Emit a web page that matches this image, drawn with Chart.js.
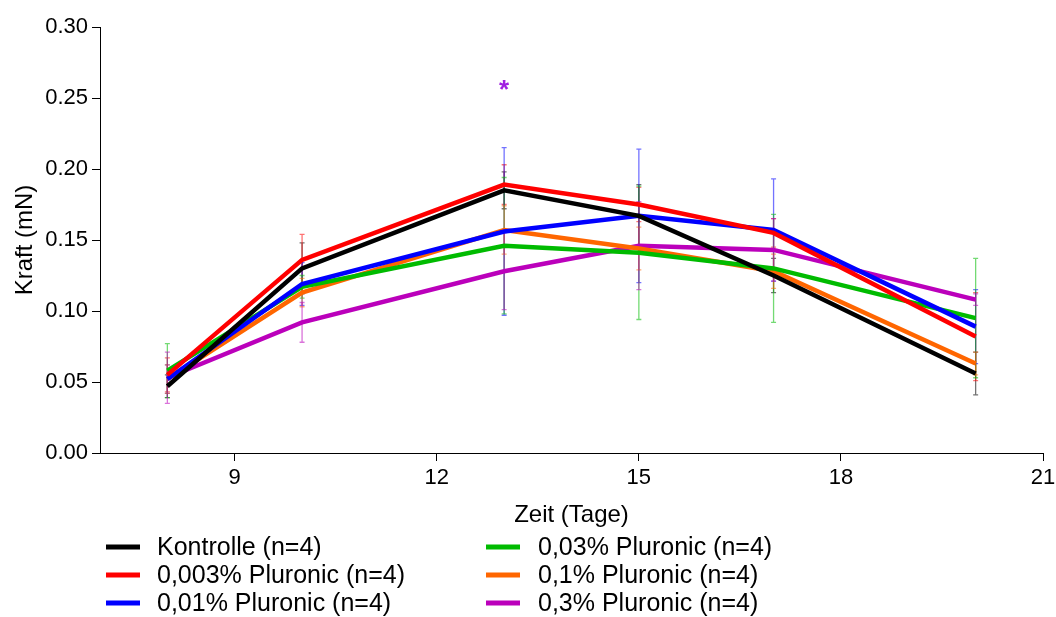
<!DOCTYPE html>
<html>
<head>
<meta charset="utf-8">
<script src="https://cdn.jsdelivr.net/npm/chart.js@4.4.1/dist/chart.umd.min.js"></script>
<style>
  html, body { margin: 0; padding: 0; background: #fff; }
  #wrap { position: relative; width: 1056px; height: 617px; }
</style>
</head>
<body>
<div id="wrap"><canvas id="c" width="1056" height="617"></canvas></div>
<script>
// ---- data ----
const days = [8, 10, 13, 15, 17, 20];
const xTicks = [9, 12, 15, 18, 21];
const seriesNames = ["Kontrolle (n=4)", "0,003% Pluronic (n=4)", "0,01% Pluronic (n=4)",
                     "0,03% Pluronic (n=4)", "0,1% Pluronic (n=4)", "0,3% Pluronic (n=4)"];
const kontrolle = [0.047, 0.130, 0.185, 0.167, 0.125, 0.056];
const p0003     = [0.055, 0.136, 0.189, 0.175, 0.155, 0.082];
const p001      = [0.052, 0.119, 0.156, 0.167, 0.157, 0.089];
const p003      = [0.058, 0.117, 0.146, 0.141, 0.130, 0.095];
const p01       = [0.052, 0.113, 0.157, 0.144, 0.128, 0.063];
const p03       = [0.053, 0.092, 0.128, 0.146, 0.143, 0.108];
const sdKontrolle = [0.008, 0.018, 0.013, 0.022, 0.012, 0.015];
const sdP0003     = [0.012, 0.018, 0.014, 0.012, 0.010, 0.031];
const sdP001      = [0.010, 0.015, 0.059, 0.047, 0.036, 0.026];
const sdP003      = [0.019, 0.008, 0.048, 0.047, 0.038, 0.042];
const sdP01       = [0.010, 0.010, 0.017, 0.015, 0.012, 0.008];
const sdP03       = [0.018, 0.014, 0.027, 0.031, 0.022, 0.004];
const starPoint = {x: 13, y: 0.25, text: "*"};

const colors = ["#000000", "#ff0000", "#0000ff", "#00bb00", "#ff6600", "#bb00bb"];
const values = [kontrolle, p0003, p001, p003, p01, p03];
const sds = [sdKontrolle, sdP0003, sdP001, sdP003, sdP01, sdP03];
const FONT = '"Liberation Sans", Arial, sans-serif';

const datasets = values.map((vals, i) => ({
  label: seriesNames[i],
  data: days.map((d, j) => ({x: d, y: vals[j]})),
  sd: sds[i],
  borderColor: colors[i],
  backgroundColor: colors[i],
  borderWidth: 4.5,
  pointRadius: 0,
  tension: 0,
  fill: false
}));

function hexA(hex, a) {
  const r = parseInt(hex.slice(1,3),16), g = parseInt(hex.slice(3,5),16), b = parseInt(hex.slice(5,7),16);
  return `rgba(${r},${g},${b},${a})`;
}

const errorBars = {
  id: 'errorBars',
  beforeDatasetsDraw(chart) {
    const {ctx, scales: {x, y}} = chart;
    ctx.save();
    ctx.lineWidth = 1.3;
    chart.data.datasets.forEach((ds) => {
      ctx.strokeStyle = hexA(ds.borderColor, 0.55);
      ds.data.forEach((p, j) => {
        const px = x.getPixelForValue(p.x);
        const y1 = y.getPixelForValue(p.y + ds.sd[j]);
        const y2 = y.getPixelForValue(p.y - ds.sd[j]);
        ctx.beginPath();
        ctx.moveTo(px, y1); ctx.lineTo(px, y2);
        ctx.moveTo(px - 2.5, y1); ctx.lineTo(px + 2.5, y1);
        ctx.moveTo(px - 2.5, y2); ctx.lineTo(px + 2.5, y2);
        ctx.stroke();
      });
    });
    ctx.restore();
  },
  afterDraw(chart) {
    const {ctx, scales: {x, y}} = chart;
    ctx.save();
    // significance star
    ctx.fillStyle = "#a020e0";
    ctx.font = "bold 26px " + FONT;
    ctx.textAlign = "center";
    ctx.textBaseline = "alphabetic";
    ctx.fillText(starPoint.text, x.getPixelForValue(starPoint.x), y.getPixelForValue(starPoint.y));
    // legend (two columns)
    const cols = [{lx: 106, tx: 157}, {lx: 486, tx: 538}];
    const rows = [547, 575, 603];
    ctx.font = "25px " + FONT;
    ctx.textAlign = "left";
    ctx.textBaseline = "middle";
    chart.data.datasets.forEach((ds, i) => {
      const c = cols[Math.floor(i / 3)], ry = rows[i % 3];
      ctx.strokeStyle = ds.borderColor;
      ctx.lineWidth = 5;
      ctx.beginPath();
      ctx.moveTo(c.lx, ry); ctx.lineTo(c.lx + 34, ry);
      ctx.stroke();
      ctx.fillStyle = "#000";
      ctx.fillText(ds.label, c.tx, ry + 1);
    });
    ctx.restore();
  }
};

new Chart(document.getElementById('c'), {
  type: 'line',
  data: { datasets },
  options: {
    responsive: false,
    animation: false,
    layout: { padding: { left: 0, top: 27, right: 13, bottom: 87 } },
    plugins: { legend: { display: false }, tooltip: { enabled: false } },
    scales: {
      x: {
        type: 'linear', min: 7, max: 21,
        afterBuildTicks: (s) => { s.ticks = xTicks.map(v => ({value: v})); },
        afterFit: (s) => { s.height = 77; s.paddingRight = 0; s.paddingLeft = 0; },
        grid: { drawOnChartArea: false, drawTicks: true, tickLength: 8, color: '#000', lineWidth: 1 },
        border: { display: true, color: '#000', width: 1 },
        ticks: { color: '#000', font: { family: FONT, size: 22 }, padding: 4, maxRotation: 0 },
        title: { display: true, text: 'Zeit (Tage)', color: '#000', font: { family: FONT, size: 24 }, padding: 0 }
      },
      y: {
        min: 0, max: 0.30,
        afterFit: (s) => { s.width = 100; },
        ticks: { stepSize: 0.05, color: '#000', font: { family: FONT, size: 22 }, padding: 4,
                 callback: (v) => v.toFixed(2) },
        grid: { drawOnChartArea: false, drawTicks: true, tickLength: 8, color: '#000', lineWidth: 1 },
        border: { display: true, color: '#000', width: 1 },
        title: { display: true, text: 'Kraft (mN)', color: '#000', font: { family: FONT, size: 24 }, padding: { top: 11, bottom: 0 } }
      }
    }
  },
  plugins: [errorBars]
});
</script>
</body>
</html>
